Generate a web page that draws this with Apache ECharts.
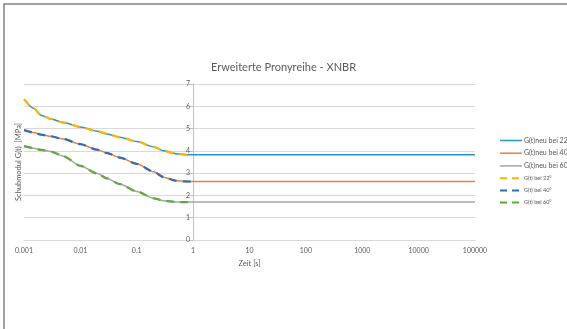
<!DOCTYPE html>
<html>
<head>
<meta charset="utf-8">
<script src="https://cdn.jsdelivr.net/npm/echarts@6/dist/echarts.min.js"></script>
<style>
  html, body { margin: 0; padding: 0; background: #fff; }
  #chart { width: 567px; height: 329px; }
</style>
</head>
<body>
<div id="chart"></div>
<script>
// ---- data ----
const titleText = 'Erweiterte Pronyreihe - XNBR';
const xAxisName = 'Zeit [s]';
const yAxisName = 'Schubmodul G(t)  [MPa]';

const times = [0.001, 0.0015, 0.002, 0.003, 0.005, 0.01, 0.02, 0.03, 0.05, 0.1, 0.2, 0.3, 0.5, 0.7, 1];
const g22 = [6.32, 5.90, 5.60, 5.43, 5.27, 5.07, 4.88, 4.76, 4.61, 4.42, 4.18, 4.00, 3.87, 3.83, 3.82];
const g40 = [4.93, 4.82, 4.73, 4.65, 4.53, 4.30, 4.05, 3.90, 3.70, 3.42, 3.06, 2.82, 2.66, 2.63, 2.62];
const g60 = [4.21, 4.12, 4.04, 3.97, 3.76, 3.33, 2.98, 2.76, 2.51, 2.18, 1.87, 1.76, 1.71, 1.70, 1.70];

const timesNeu = [0.001, 0.0015, 0.002, 0.003, 0.005, 0.01, 0.02, 0.03, 0.05, 0.1, 0.2, 0.3, 0.5, 0.7, 1, 10, 100, 1000, 10000, 100000];
const neu22 = [6.32, 5.90, 5.60, 5.43, 5.27, 5.07, 4.88, 4.76, 4.61, 4.42, 4.18, 4.00, 3.87, 3.83, 3.82, 3.82, 3.82, 3.82, 3.82, 3.82];
const neu40 = [4.93, 4.82, 4.73, 4.65, 4.53, 4.30, 4.05, 3.90, 3.70, 3.42, 3.06, 2.82, 2.66, 2.63, 2.62, 2.62, 2.62, 2.62, 2.62, 2.62];
const neu60 = [4.21, 4.12, 4.04, 3.97, 3.76, 3.33, 2.98, 2.76, 2.51, 2.18, 1.87, 1.76, 1.71, 1.70, 1.70, 1.70, 1.70, 1.70, 1.70, 1.70];

const seriesNames = ['G(t)neu bei 22', 'G(t)neu bei 40', 'G(t)neu bei 60', 'G(t) bei 22°', 'G(t) bei 40°', 'G(t) bei 60°'];
const xMin = 0.001, xMax = 100000, yCross = 1;
const yMin = 0, yMax = 7, yStep = 1;

// ---- chart ----
const W = 567, H = 329;
const gridLeft = 24, gridRight = 92, gridTop = 84, gridBottom = 89;
const gridW = W - gridLeft - gridRight;
const yAxisOffset = -gridW * (Math.log10(yCross) - Math.log10(xMin)) / (Math.log10(xMax) - Math.log10(xMin));

const pairs = (xs, ys) => xs.map((x, i) => [x, ys[i]]);
const font = 'Lato, "Liberation Sans", sans-serif';
const txt = '#595959';

function solid(name, xs, ys, color) {
  return { name, type: 'line', data: pairs(xs, ys), symbol: 'none', smooth: 0.25, smoothMonotone: 'x',
    lineStyle: { color, width: 1.5, type: 'solid' }, itemStyle: { color }, z: 2 };
}
function dashed(name, xs, ys, color) {
  return { name, type: 'line', data: pairs(xs, ys), symbol: 'none', smooth: 0.25, smoothMonotone: 'x',
    lineStyle: { color, width: 2.25, type: [8, 6] }, itemStyle: { color }, z: 3 };
}

const chart = echarts.init(document.getElementById('chart'), null, { renderer: 'canvas' });
chart.setOption({
  animation: false,
  backgroundColor: '#fff',
  textStyle: { fontFamily: font },
  title: {
    text: titleText, left: 'center', top: 62, padding: [0, 0, 0, 11],
    textStyle: { fontFamily: font, fontSize: 11, fontWeight: 'normal', color: txt }
  },
  graphic: [{
    type: 'polyline', shape: { points: [[4, H], [4, 4], [W, 4]] },
    style: { stroke: '#808080', lineWidth: 1.5, fill: null }, silent: true
  }],
  grid: { left: gridLeft, right: gridRight, top: gridTop, bottom: gridBottom, containLabel: false },
  legend: {
    orient: 'vertical', left: 499, top: 137, padding: 0,
    itemWidth: 22, itemHeight: 8, itemGap: 5.7,
    itemStyle: { opacity: 0 },
    textStyle: { fontFamily: font, fontSize: 7, color: txt, padding: [0, 0, 0, -3] },
    data: seriesNames.map((n, i) => i < 3
      ? { name: n, lineStyle: { width: 1.5 } }
      : { name: n, lineStyle: { width: 2, type: [7, 5] }, textStyle: { fontSize: 5.5 } })
  },
  xAxis: {
    type: 'log', logBase: 10, min: xMin, max: xMax,
    name: xAxisName, nameLocation: 'middle', nameGap: 20,
    nameTextStyle: { fontFamily: font, fontSize: 7.5, color: txt },
    axisLine: { lineStyle: { color: '#D9D9D9', width: 1 } },
    axisTick: { show: false }, splitLine: { show: false }, minorTick: { show: false },
    axisLabel: { fontSize: 7, color: txt, margin: 7,
      formatter: v => v >= 1 ? String(Math.round(v)) : String(+v.toPrecision(3)) }
  },
  yAxis: [{
    type: 'value', min: yMin, max: yMax, interval: yStep, position: 'left', offset: yAxisOffset,
    axisLine: { show: true, lineStyle: { color: '#BFBFBF', width: 1 } },
    axisTick: { show: true, length: 4, lineStyle: { color: '#BFBFBF' } },
    splitLine: { show: true, lineStyle: { color: '#D9D9D9', width: 1 } },
    axisLabel: { fontSize: 7, color: txt, margin: 3 }
  }, {
    type: 'value', min: yMin, max: yMax, position: 'left', offset: 0,
    name: yAxisName, nameLocation: 'middle', nameGap: 1.5, nameRotate: 90,
    nameTextStyle: { fontFamily: font, fontSize: 7.5, color: txt },
    axisLine: { show: false }, axisTick: { show: false }, axisLabel: { show: false }, splitLine: { show: false }
  }],
  series: [
    solid(seriesNames[0], timesNeu, neu22, '#2196DC'),
    solid(seriesNames[1], timesNeu, neu40, '#F07D3A'),
    solid(seriesNames[2], timesNeu, neu60, '#A5A5A5'),
    dashed(seriesNames[3], times, g22, '#FFB300'),
    dashed(seriesNames[4], times, g40, '#2E6DB8'),
    dashed(seriesNames[5], times, g60, '#5DAA3F')
  ]
});
</script>
</body>
</html>
